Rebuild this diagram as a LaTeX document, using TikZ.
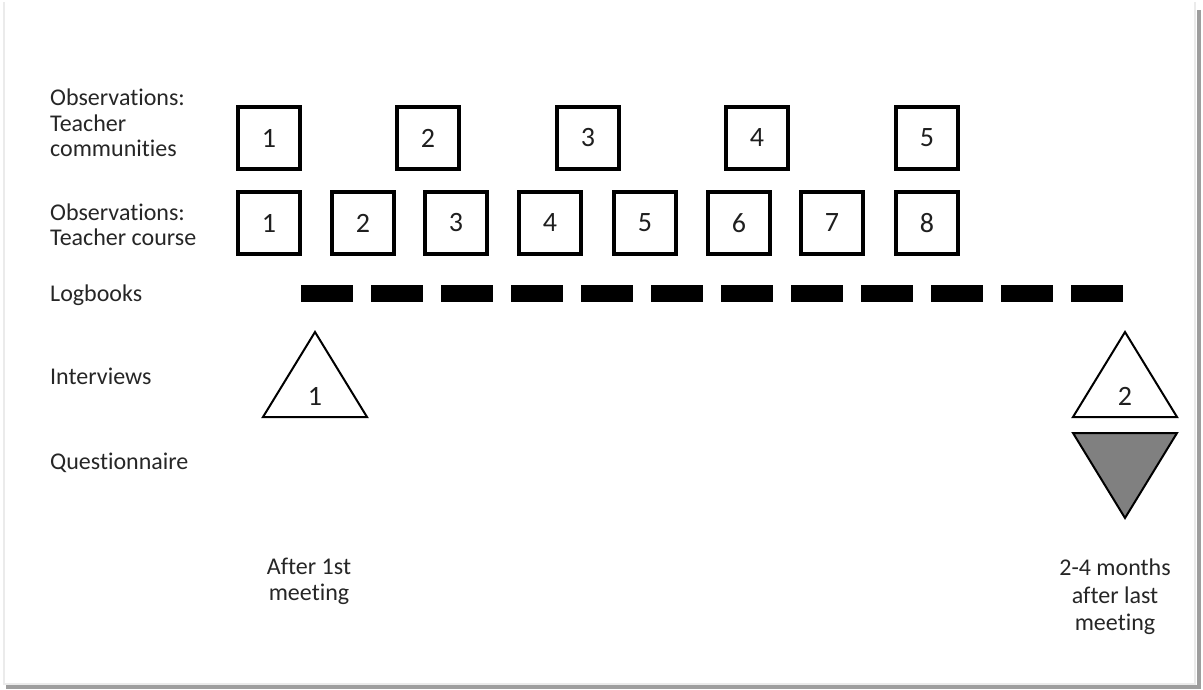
\documentclass[tikz,border=0pt]{standalone}
\usepackage{fontspec}
\setmainfont{Carlito}[Ligatures=CommonOff]
\begin{document}
\begin{tikzpicture}[x=1pt,y=-1pt,
  lbl/.style={anchor=base west,inner sep=0pt,font=\fontsize{24}{26}\selectfont,text=black!85},
  tlbl/.style={anchor=base,inner sep=0pt,font=\fontsize{24}{26}\selectfont,text=black!85},
  obox/.style={draw=black,line width=3.2pt,minimum size=62pt,inner sep=0pt,font=\fontsize{28}{30}\selectfont,text=black!88},
  tri/.style={draw=black,line width=2pt,line join=miter},
  digit/.style={inner sep=0pt,font=\fontsize{28}{30}\selectfont,text=black!88}]
\useasboundingbox (0,0) rectangle (1203,690);
% frame
\draw[black!8,line width=2pt] (4,2) -- (4,684) -- (1195,684) -- (1195,2);
\fill[black!38] (1197,10) rectangle (1201,689);
\fill[black!38] (6,685) rectangle (1201,689);
% row labels
\node[lbl] (l1a) at (50,106) {Observations:};
\node[lbl] (l1b) at (50,132) {Teacher};
\node[lbl] (l1c) at (50,157) {communities};
\node[lbl] (l2a) at (50,220) {Observations:};
\node[lbl] (l2b) at (50,245) {Teacher course};
\node[lbl] (l3) at (50,301) {Logbooks};
\node[lbl] (l4) at (50,384) {Interviews};
\node[lbl] (l5) at (50,469) {Questionnaire};
% teacher communities
\node[obox] (c1) at (269,138) {1};
\node[obox] (c2) at (428,138) {2};
\node[obox] (c3) at (588,138) {3};
\node[obox] (c4) at (757,138) {4};
\node[obox] (c5) at (927,138) {5};
% teacher course
\node[obox] (k1) at (269,223) {1};
\node[obox] (k2) at (363,223) {2};
\node[obox] (k3) at (456,223) {3};
\node[obox] (k4) at (550,223) {4};
\node[obox] (k5) at (645,223) {5};
\node[obox] (k6) at (739,223) {6};
\node[obox] (k7) at (832,223) {7};
\node[obox] (k8) at (927,223) {8};
% logbooks
\coordinate (lbs) at (301,293.5);
\coordinate (lbe) at (1123,293.5);
\draw[line width=17pt,dash pattern=on 52pt off 18pt] (lbs) -- (lbe);
% interviews
\draw[tri] (315,332) -- (367,417) -- (263,417) -- cycle;
\node[digit] (i1) at (315,396) {1};
\draw[tri] (1125,332) -- (1177,417) -- (1073,417) -- cycle;
\node[digit] (i2) at (1125,396) {2};
% questionnaire
\draw[tri,fill=black!50] (1073,433) -- (1177,433) -- (1125,518) -- cycle;
% time labels
\node[tlbl] (t1a) at (309,574) {After 1st};
\node[tlbl] (t1b) at (309,600) {meeting};
\node[tlbl] (t2a) at (1115,575) {2-4 months};
\node[tlbl] (t2b) at (1115,603) {after last};
\node[tlbl] (t2c) at (1115,630) {meeting};
\end{tikzpicture}
\end{document}
